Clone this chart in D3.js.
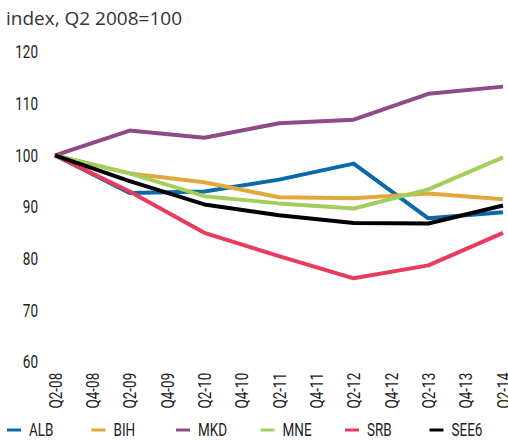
<!DOCTYPE html>
<html>
<head>
<meta charset="utf-8">
<script src="https://cdn.jsdelivr.net/npm/d3@7"></script>
<style>
  body { margin: 0; background: #fff; }
  text { fill: #222; }
</style>
</head>
<body>
<div id="canvas"></div>
<script>
// half-year axis labels, data points are every Q2
const tickLabels = ["Q2-08","Q4-08","Q2-09","Q4-09","Q2-10","Q4-10","Q2-11","Q4-11","Q2-12","Q4-12","Q2-13","Q4-13","Q2-14"];
const periods = ["Q2-08","Q2-09","Q2-10","Q2-11","Q2-12","Q2-13","Q2-14"];
const yTicks = [60, 70, 80, 90, 100, 110, 120];

const seriesNames = ["ALB", "BIH", "MKD", "MNE", "SRB", "SEE6"];
const seriesColors = ["#0a69a8", "#e0a93e", "#8f4a87", "#a4ce5c", "#ea3a5e", "#000000"];
const alb  = [100, 92.7, 93.0, 95.3, 98.4, 87.8, 89.0];
const bih  = [100, 96.5, 94.8, 91.9, 91.7, 92.6, 91.5];
const mkd  = [100, 104.8, 103.4, 106.2, 106.9, 111.9, 113.3];
const mne  = [100, 96.5, 92.1, 90.7, 89.7, 93.4, 99.6];
const srb  = [100, 93.0, 85.0, 80.5, 76.2, 78.7, 85.0];
const see6 = [100, 95.0, 90.5, 88.4, 86.9, 86.8, 90.3];
const seriesValues = [alb, bih, mkd, mne, srb, see6];

function drawChart() {
  const width = 508, height = 440;
  const svg = d3.select("#canvas").append("svg")
    .attr("width", width).attr("height", height);

  const x = d3.scalePoint().domain(tickLabels).range([55, 503]);
  const y = d3.scaleLinear().domain([60, 120]).range([362, 52]);

  svg.append("text")
    .attr("x", 6).attr("y", 25)
    .style("font-family", "'Open Sans', 'DejaVu Sans', sans-serif")
    .style("font-size", "19px")
    .style("fill", "#333")
    .text("index, Q2 2008=100");

  // no narrow font installed, so squeeze a regular one
  const font = "Roboto, 'Liberation Sans', sans-serif";
  const k = 0.75;
  const squeeze = `scale(${k},1)`;

  const yAxis = svg.append("g")
    .attr("transform", "translate(38,0)")
    .call(d3.axisLeft(y).tickValues(yTicks).tickSize(0).tickPadding(0));
  yAxis.select(".domain").remove();
  yAxis.selectAll("text")
    .style("font-family", font).style("font-size", "18px").style("fill", "#222")
    .attr("transform", squeeze);

  const xAxis = svg.append("g")
    .attr("transform", "translate(0,372)")
    .call(d3.axisBottom(x).tickSize(0).tickPadding(0));
  xAxis.select(".domain").remove();
  xAxis.selectAll("text")
    .style("font-family", font).style("font-size", "18px").style("fill", "#222")
    .attr("transform", "rotate(-90) " + squeeze)
    .attr("text-anchor", "end")
    .attr("dy", "0.35em")
    .attr("x", -1).attr("y", 0);

  const line = d3.line()
    .x((d, i) => x(periods[i]))
    .y(d => y(d));

  svg.append("g").selectAll("path")
    .data(seriesValues)
    .enter().append("path")
    .attr("d", d => line(d))
    .attr("fill", "none")
    .attr("stroke", (d, i) => seriesColors[i])
    .attr("stroke-width", 4)
    .attr("stroke-linejoin", "round");

  const legend = svg.append("g").selectAll("g")
    .data(seriesNames)
    .enter().append("g")
    .attr("transform", (d, i) => `translate(${7 + i * 84.5},430)`);
  legend.append("line")
    .attr("x1", 0).attr("x2", 14).attr("y1", 0).attr("y2", 0)
    .attr("stroke", (d, i) => seriesColors[i])
    .attr("stroke-width", 3);
  legend.append("text")
    .attr("x", 22 / k).attr("y", 0).attr("dy", "0.35em")
    .attr("transform", squeeze)
    .style("font-family", font).style("font-size", "18px").style("fill", "#222")
    .text(d => d);
}

drawChart();
</script>
</body>
</html>
